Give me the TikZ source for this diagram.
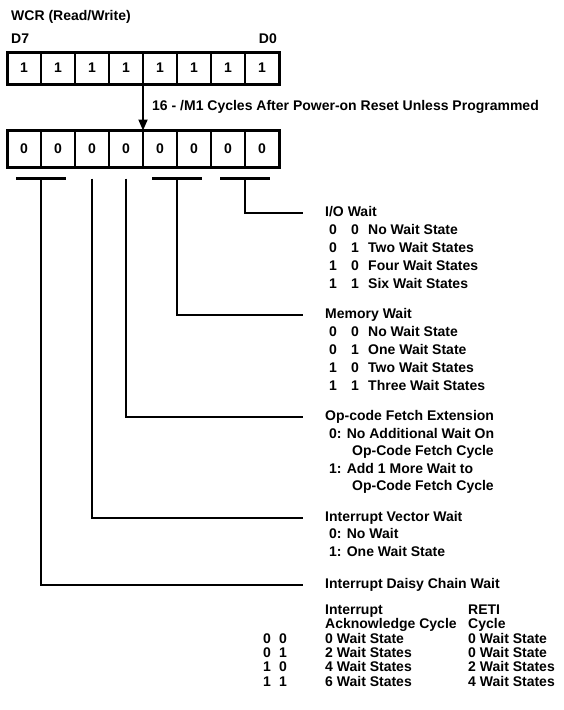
\documentclass[tikz,border=0pt]{standalone}
\usepackage{fontspec}
\setmainfont{Liberation Sans}
\usetikzlibrary{calc,arrows.meta}

\tikzset{
  bitcell/.style={draw, line width=2.4pt, minimum width=34pt, minimum height=#1, inner sep=0pt, outer sep=0pt},
  lbl/.style={anchor=west, inner sep=0pt, text height=10pt, text depth=3pt},
  wire/.style={line width=2.4pt},
}

\begin{document}
\begin{tikzpicture}[x=1pt, y=-1pt, font=\fontsize{14}{16}\selectfont\bfseries]
    \useasboundingbox (0,0) rectangle (564,710);

    % Header
    \node[lbl] (wcr) at (11,17) {WCR (Read/Write)};
    \node[lbl] (d7) at (11,40) {D7};
    \node[lbl, anchor=east] (d0) at (277,40) {D0};

    % Registers: reset value and programmed value
    \foreach \i in {0,...,7} {
        \pgfmathtruncatemacro{\bit}{7-\i}
        \node[bitcell=32pt] (t\bit) at (24+34*\i,68) {1};
        \node[bitcell=37pt] (b\bit) at (24+34*\i,149) {0};
    }
    \draw[line width=3pt] (t7.north west) rectangle (t0.south east);
    \draw[line width=3pt] (b7.north west) rectangle (b0.south east);

    % Arrow between the registers
    \draw[line width=1.8pt, -{Triangle[length=11pt,width=9pt]}] (t4.south east) -- (b3.north west);
    \node[lbl] (pwr) at (152,107) {16 - /M1 Cycles After Power-on Reset Unless Programmed};

    % Field brackets
    \coordinate (k76) at ($(b7.south east)+(0,11)$);
    \coordinate (k5) at ($(b5.south)+(0,11)$);
    \coordinate (k4) at ($(b4.south)+(0,11)$);
    \coordinate (k32) at ($(b3.south east)+(0,11)$);
    \coordinate (k10) at ($(b1.south east)+(0,11)$);
    \foreach \k in {k76,k32,k10}
        \draw[wire] ([xshift=-25pt]\k) -- ([xshift=25pt]\k);

    % Field names
    \node[lbl] (io) at (325,213) {I/O Wait};
    \node[lbl] (mem) at (325,315) {Memory Wait};
    \node[lbl] (opc) at (325,417) {Op-code Fetch Extension};
    \node[lbl] (ivw) at (325,518) {Interrupt Vector Wait};
    \node[lbl] (idc) at (325,585) {Interrupt Daisy Chain Wait};

    \draw[wire] (k10) |- ([xshift=-22pt]io.west);
    \draw[wire] (k32) |- ([xshift=-22pt]mem.west);
    \draw[wire] (k4) |- ([xshift=-22pt]opc.west);
    \draw[wire] (k5) |- ([xshift=-22pt]ivw.west);
    \draw[wire] (k76) |- ([xshift=-22pt]idc.west);

    % I/O Wait
    \foreach \y/\a/\b/\t in {231/0/0/No Wait State, 249/0/1/Two Wait States,
                             267/1/0/Four Wait States, 285/1/1/Six Wait States} {
        \node[lbl, anchor=center] (io\a\b) at (333,\y) {\a};
        \node[lbl, anchor=center] (io\a\b b) at (355,\y) {\b};
        \node[lbl] (io\a\b t) at (368,\y) {\t};
    }

    % Memory Wait
    \foreach \y/\a/\b/\t in {333/0/0/No Wait State, 351/0/1/One Wait State,
                             369/1/0/Two Wait States, 387/1/1/Three Wait States} {
        \node[lbl, anchor=center] (mem\a\b) at (333,\y) {\a};
        \node[lbl, anchor=center] (mem\a\b b) at (355,\y) {\b};
        \node[lbl] (mem\a\b t) at (368,\y) {\t};
    }

    % Op-code Fetch Extension
    \node[lbl] (opc0) at (329,435) {0: No Additional Wait On};
    \node[lbl] (opc0b) at (352,452) {Op-Code Fetch Cycle};
    \node[lbl] (opc1) at (329,470) {1: Add 1 More Wait to};
    \node[lbl] (opc1b) at (352,487) {Op-Code Fetch Cycle};

    % Interrupt Vector Wait
    \node[lbl] (ivw0) at (329,535) {0: No Wait};
    \node[lbl] (ivw1) at (329,553) {1: One Wait State};

    % Interrupt Daisy Chain Wait
    \node[lbl] (iack) at (325,611) {Interrupt};
    \node[lbl] (iack2) at (325,625) {Acknowledge Cycle};
    \node[lbl] (reti) at (468,611) {RETI};
    \node[lbl] (reti2) at (468,625) {Cycle};
    \foreach \y/\a/\b/\s/\r in {640/0/0/0 Wait State/0 Wait State,
                                654/0/1/2 Wait States/0 Wait State,
                                668/1/0/4 Wait States/2 Wait States,
                                683/1/1/6 Wait States/4 Wait States} {
        \node[lbl, anchor=center] (idc\a\b) at (267,\y) {\a};
        \node[lbl, anchor=center] (idc\a\b b) at (283,\y) {\b};
        \node[lbl] (idc\a\b s) at (325,\y) {\s};
        \node[lbl] (idc\a\b r) at (468,\y) {\r};
    }
\end{tikzpicture}
\end{document}
